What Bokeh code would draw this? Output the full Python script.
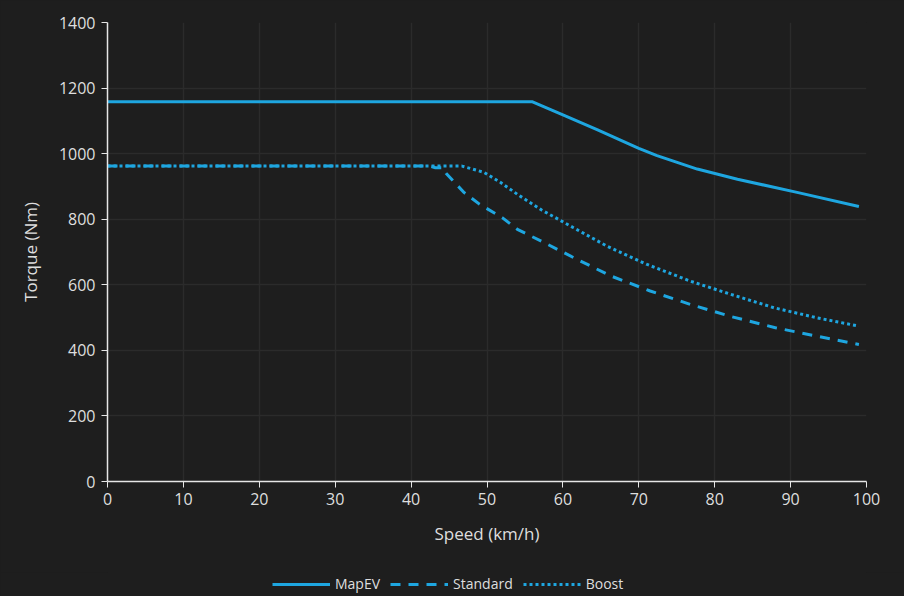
from bokeh.plotting import figure
from bokeh.layouts import column
from bokeh.models import Legend, LegendItem, FixedTicker
from bokeh.embed import file_html
from bokeh.resources import INLINE

# Torque curves (Nm) against vehicle speed (km/h)
mapev_speed = [0, 56, 60, 64.5, 70, 72.4, 77.7, 83, 91, 99]
mapev_torque = [1158, 1158, 1118, 1073, 1016, 994, 953, 922, 881, 839]

standard_speed = [0, 42.5, 43.2, 44.2, 44.6, 47, 49, 52, 54, 57.5, 61.4, 66.3, 71.5, 76.8, 82, 88, 93.5, 99]
standard_torque = [962, 962, 957, 957, 940, 881, 846, 805, 769, 729, 683, 627, 581, 540, 504, 469, 443, 418]

boost_speed = [0, 46.7, 49.6, 51.8, 54, 57.2, 61.4, 65.8, 71.1, 76.8, 82.1, 87.8, 93.5, 99]
boost_torque = [962, 962, 943, 912, 876, 828, 774, 718, 662, 611, 571, 530, 499, 474]

series_names = ["MapEV", "Standard", "Boost"]
x_ticks = list(range(0, 101, 10))
y_ticks = list(range(0, 1401, 200))

BG = "#1e1e1e"
GRID = "#2b2b2b"
AXIS = "#e6e6e6"
TEXT = "#dedede"
BLUE = "#1ea6e0"
FONT = "Open Sans"
DASHES = ["solid", "10 8", "3 3"]

p = figure(width=904, height=572, x_range=(0, 100), y_range=(0, 1400),
           output_backend="svg", toolbar_location=None,
           background_fill_color=BG, border_fill_color=BG,
           min_border_left=107, min_border_right=38, min_border_top=22,
           min_border_bottom=91)
p.outline_line_color = None

p.line(mapev_speed, mapev_torque, line_color=BLUE, line_width=3,
       line_dash=DASHES[0])
p.line(standard_speed, standard_torque, line_color=BLUE, line_width=3,
       line_dash=DASHES[1])
p.line(boost_speed, boost_torque, line_color=BLUE, line_width=3,
       line_dash=DASHES[2])

p.xaxis.ticker = FixedTicker(ticks=x_ticks)
p.yaxis.ticker = FixedTicker(ticks=y_ticks)
for ax in (p.xaxis, p.yaxis):
    ax.axis_line_color = AXIS
    ax.axis_line_width = 1.5
    ax.major_tick_line_color = AXIS
    ax.major_tick_out = 6
    ax.major_tick_in = 0
    ax.minor_tick_line_color = None
    ax.major_label_text_color = TEXT
    ax.major_label_text_font = FONT
    ax.major_label_text_font_size = "16px"
    ax.axis_label_text_color = TEXT
    ax.axis_label_text_font = FONT
    ax.axis_label_text_font_size = "17px"
    ax.axis_label_text_font_style = "normal"

p.xaxis.axis_label = "Speed (km/h)"
p.yaxis.axis_label = "Torque (Nm)"
p.xaxis.major_label_standoff = 5
p.xaxis.axis_label_standoff = 14
p.yaxis.major_label_standoff = 6
p.yaxis.axis_label_standoff = 14

p.xgrid.grid_line_color = GRID
p.ygrid.grid_line_color = GRID
p.xgrid.grid_line_width = 1.5
p.ygrid.grid_line_width = 1.5

# Legend strip under the chart: NaN-only line renderers carry the styles
nan = float("nan")
leg = figure(width=904, height=24, x_range=(0, 1), y_range=(0, 1),
             output_backend="svg", toolbar_location=None,
             background_fill_color=BG, border_fill_color=BG,
             min_border=0, x_axis_type=None, y_axis_type=None)
leg.outline_line_color = None
leg.grid.visible = False
items = []
for name, dash in zip(series_names, DASHES):
    r = leg.line(x=[nan, nan], y=[nan, nan], line_color=BLUE, line_width=3,
                 line_dash=dash)
    items.append(LegendItem(label=name, renderers=[r]))
legend = Legend(items=items, orientation="horizontal", location=(165, 3),
                background_fill_alpha=0, border_line_color=None,
                label_text_color=TEXT, label_text_font=FONT,
                label_text_font_size="14px", glyph_width=58, glyph_height=14,
                spacing=10, label_standoff=5, padding=2, margin=0)
leg.add_layout(legend)

layout = column(p, leg, spacing=0, styles={"background-color": BG})
open("out.html", "w").write(file_html(layout, INLINE))
